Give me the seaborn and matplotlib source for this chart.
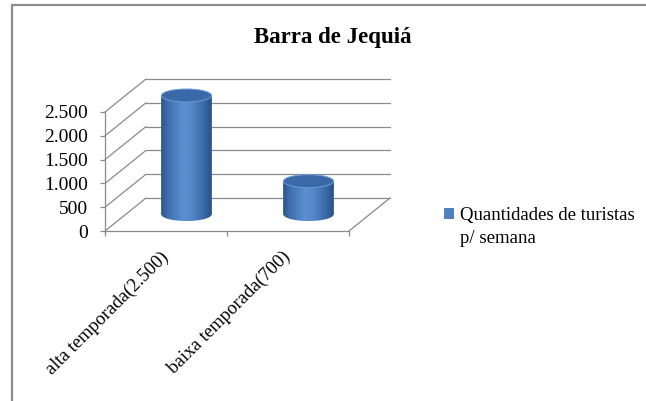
import numpy as np
import pandas as pd
import seaborn as sns
import matplotlib
matplotlib.use("Agg")
import matplotlib.pyplot as plt
from matplotlib import transforms as mtrans
from matplotlib.patches import Ellipse, PathPatch, Patch
from matplotlib.path import Path
from matplotlib.colors import LinearSegmentedColormap
from matplotlib.lines import Line2D

# ---- data ----
categories = ["alta temporada(2.500)", "baixa temporada(700)"]
values = [2500, 700]
series_label_1 = "Quantidades de turistas"
series_label_2 = "p/ semana"
y_ticks = [0, 500, 1000, 1500, 2000, 2500]
y_tick_labels = ["0", "500", "1.000", "1.500", "2.000", "2.500"]
title = "Barra de Jequiá"

sns.set_theme(style="white")
plt.rcParams["font.family"] = ["Liberation Serif", "DejaVu Serif"]
plt.rcParams["text.color"] = "black"

W, H = 646, 401
fig = plt.figure(figsize=(W / 100, H / 100), dpi=100)
fig.patch.set_facecolor("white")
ax = fig.add_axes([105 / W, 170 / H, 244 / W, 119 / H])
ax.set_facecolor("none")

BASE = "#4F81BD"
GC = "#8a8a8a"

df = pd.DataFrame({"cat": categories, "val": values,
                   "serie": [series_label_1] * len(values)})
sns.barplot(data=df, x="cat", y="val", hue="serie", palette=[BASE],
            width=0.41, ax=ax, legend=False, errorbar=None, zorder=3)

ax.set_xlim(-0.5, 1.5)
ax.set_ylim(0, 2500)

# depth transforms
back = mtrans.offset_copy(ax.transData, fig=fig, x=41, y=33, units="dots")
mid = mtrans.offset_copy(ax.transData, fig=fig, x=20.5, y=16.5, units="dots")

# back wall + left wall grid
for v in y_ticks:
    ax.plot([-0.5, 1.5], [v, v], transform=back, color=GC, lw=0.9,
            clip_on=False, zorder=1)
    ax.annotate("", xy=(-0.5, v), xycoords="data", xytext=(41, 33),
                textcoords="offset pixels", annotation_clip=False,
                arrowprops=dict(arrowstyle="-", color=GC, lw=0.9,
                                shrinkA=0, shrinkB=0), zorder=1)
# floor right edge
ax.annotate("", xy=(1.5, 0), xycoords="data", xytext=(41, 33),
            textcoords="offset pixels", annotation_clip=False,
            arrowprops=dict(arrowstyle="-", color=GC, lw=0.9,
                            shrinkA=0, shrinkB=0), zorder=1)

# cylinder shading
px_per_unit_y = ax.transData.transform((0, 1))[1] - ax.transData.transform((0, 0))[1]
eh = 13 / px_per_unit_y
cmap = LinearSegmentedColormap.from_list(
    "cyl", [(0.0, "#2E5487"), (0.12, "#3E6CA9"), (0.42, "#5A8FD1"),
            (0.58, "#5789CB"), (0.85, "#3A68A6"), (1.0, "#2B5083")])
grad = np.linspace(0, 1, 256)[None, :]

bars = [p for p in ax.patches]
for p in bars:
    x0, w, h = p.get_x(), p.get_width(), p.get_height()
    cx = x0 + w / 2
    p.set_transform(mid)
    p.set_clip_on(False)
    p.set_edgecolor("none")
    t = np.linspace(np.pi, 2 * np.pi, 60)
    verts = [(x0, h), (x0, 0)] + [(cx + w / 2 * np.cos(a), eh / 2 * np.sin(a)) for a in t] \
        + [(x0 + w, h), (x0, h)]
    path = Path(verts, closed=True)
    clip = PathPatch(path, transform=mid)
    im = ax.imshow(grad, cmap=cmap, extent=(x0, x0 + w, -eh / 2, h),
                   aspect="auto", transform=mid, zorder=4, interpolation="bilinear")
    im.set_clip_box(fig.bbox)
    im.set_clip_path(clip)
    top = Ellipse((cx, h), w, eh, transform=mid, facecolor="#3B68A7",
                  edgecolor="#6B9BDA", lw=0.7, zorder=5, clip_on=False)
    ax.add_patch(top)

ax.set_xlim(-0.5, 1.5)
ax.set_ylim(0, 2500)

# spines
for s in ["top", "right"]:
    ax.spines[s].set_visible(False)
for s in ["left", "bottom"]:
    ax.spines[s].set_visible(True)
    ax.spines[s].set_color(GC)
    ax.spines[s].set_linewidth(0.9)

# y axis
ax.set_yticks(y_ticks, y_tick_labels)
ax.tick_params(axis="y", left=True, length=3.6, width=0.9, color=GC,
               pad=8.5, labelsize=14, labelcolor="black")
ax.set_ylabel("")
ax.set_xlabel("")

# x axis: boundary ticks + category labels
ax.set_xticks([-0.5, 0.5, 1.5], ["", "", ""])
ax.tick_params(axis="x", which="major", bottom=True, length=3.6, width=0.9,
               color=GC)
ax.set_xticks(range(len(categories)), categories, minor=True)
ax.tick_params(axis="x", which="minor", bottom=True, length=0, pad=12.5,
               labelsize=13.5, labelcolor="black")
for lab in ax.get_xticklabels(minor=True):
    lab.set_rotation(45)
    lab.set_ha("right")
    lab.set_va("top")
    lab.set_transform(lab.get_transform() +
                      mtrans.ScaledTranslation(6 / 100, 0, fig.dpi_scale_trans))

# legend
leg = fig.legend(handles=[Patch(facecolor=BASE, edgecolor="none")],
                 labels=[series_label_1], loc="upper left",
                 bbox_to_anchor=(444 / W, 1 - 207 / H), frameon=False,
                 handlelength=0.55, handleheight=0.55, handletextpad=0.3,
                 borderaxespad=0, borderpad=0, prop={"size": 13.5})
fig.canvas.draw()
tb = leg.get_texts()[0].get_window_extent()
fig.text(tb.x0 / W, (tb.y0 - 23 + tb.height / 2) / H, series_label_2,
         ha="left", va="center", fontsize=13.5)

# title
fig.text(333 / W, 1 - 37 / H, title, ha="center", va="center",
         fontsize=16.5, fontweight="bold")

# outer frame (top and left edges visible)
fig.add_artist(Line2D([11.5 / W, 11.5 / W], [0, 1 - 4.5 / H],
                      transform=fig.transFigure, color="#8c8c8c", lw=1.6))
fig.add_artist(Line2D([11.5 / W, 1], [1 - 4.5 / H, 1 - 4.5 / H],
                      transform=fig.transFigure, color="#8c8c8c", lw=1.6))

fig.savefig("out.png", dpi=100)
